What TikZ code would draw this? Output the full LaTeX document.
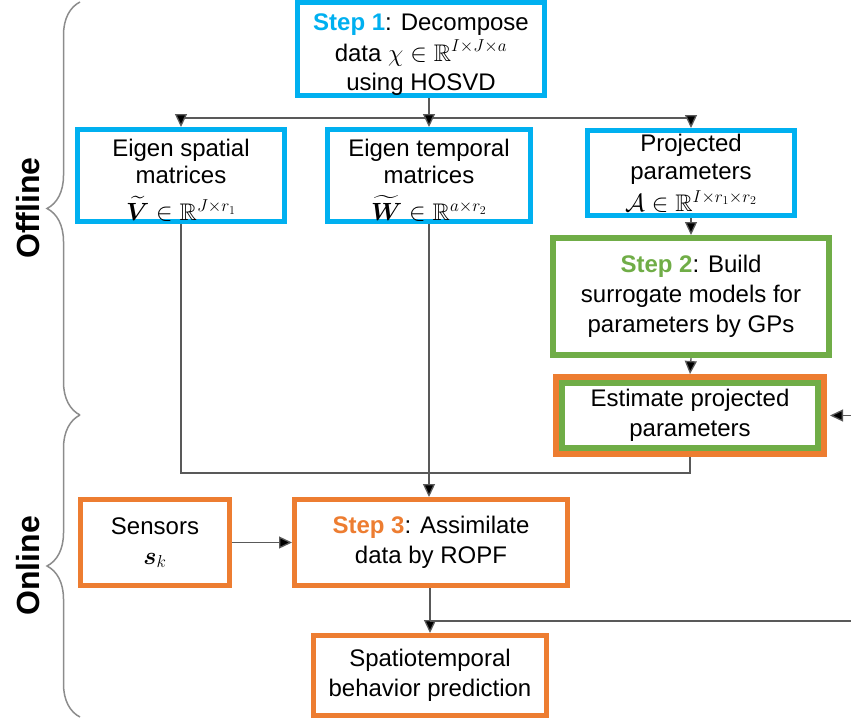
\documentclass[tikz,border=0pt]{standalone}
\usepackage{fontspec}
\usepackage{amsmath,amssymb,bm}
\setmainfont{Liberation Sans}
\usetikzlibrary{arrows.meta,decorations.pathreplacing,calc}

\definecolor{stepblue}{HTML}{00B0F0}
\definecolor{stepgreen}{HTML}{70AD47}
\definecolor{steporange}{HTML}{ED7D31}
\definecolor{linkgray}{HTML}{595959}
\definecolor{bracegray}{HTML}{8C8C8C}

% extra room above the first text line of a box
\newcommand{\topstrut}{\rule{0pt}{27pt}}

\tikzset{
  box/.style={draw, rectangle, line width=5pt, fill=white, inner sep=0pt,
    align=center, font=\fontsize{24}{28}\selectfont},
  bluebox/.style={box, draw=stepblue},
  greenbox/.style={box, draw=stepgreen, line width=6pt},
  orangebox/.style={box, draw=steporange},
  link/.style={draw=linkgray, line width=1.3pt},
  arrowlink/.style={link, -{Triangle[length=13pt,width=12pt,fill=black]}},
  phase/.style={font=\fontsize{32}{36}\selectfont\bfseries, rotate=90},
  phasebrace/.style={draw=bracegray, line width=1.5pt, decorate,
    decoration={brace, amplitude=33pt, aspect=0.5}}
}

\begin{document}
\begin{tikzpicture}[x=1pt, y=-1pt]
  \useasboundingbox (0,0) rectangle (851,725);

  % offline stage
  \node[bluebox, minimum width=247pt, minimum height=93pt] (s1) at (421,49)
    {\topstrut\textbf{\textcolor{stepblue}{Step 1}}: Decompose\\[3pt]
     data $\chi \in \mathbb{R}^{I\times J\times a}$\\[1pt] using HOSVD};
  \node[bluebox, minimum width=207pt, minimum height=90pt] (es) at (181,175.5)
    {\topstrut Eigen spatial\\[-1pt] matrices\\[9pt]
     $\widetilde{\bm{V}} \in \mathbb{R}^{J\times r_1}$};
  \node[bluebox, minimum width=203pt, minimum height=90pt] (et) at (429,175.5)
    {\topstrut Eigen temporal\\[-1pt] matrices\\[9pt]
     $\widetilde{\bm{W}} \in \mathbb{R}^{a\times r_2}$};
  \node[bluebox, minimum width=207pt, minimum height=85pt] (pp) at (691,173)
    {Projected\\ parameters\\[4pt]
     $\mathcal{A} \in \mathbb{R}^{I\times r_1\times r_2}$};
  \node[greenbox, minimum width=276pt, minimum height=117pt] (s2) at (691,296.5)
    {\textbf{\textcolor{stepgreen}{Step 2}}: Build\\[2pt]
     surrogate models for\\[2pt] parameters by GPs};
  \node[orangebox, line width=6pt, minimum width=268pt, minimum height=77pt] (est) at (690,415.5) {};
  \node[greenbox, minimum width=256pt, minimum height=65pt] (esti) at (est.center)
    {Estimate projected\\[2pt] parameters};

  % online stage
  \node[orangebox, minimum width=149pt, minimum height=86pt] (sen) at (155,542.5)
    {Sensors\\[2pt] $\bm{s}_k$};
  \node[orangebox, minimum width=273pt, minimum height=86pt] (s3) at (431,542.5)
    {\textbf{\textcolor{steporange}{Step 3}}: Assimilate\\[2pt] data by ROPF};
  \node[orangebox, minimum width=233pt, minimum height=80pt] (sp) at (430,675.5)
    {Spatiotemporal\\[2pt] behavior prediction};

  % connectors
  \coordinate (j1) at (429,118);
  \draw[link] (s1.south -| et.north) -- (j1);
  \draw[link] (es.north |- j1) -- (pp.north |- j1);
  \draw[arrowlink] (es.north |- j1) -- (es.north);
  \draw[arrowlink] (j1) -- (et.north);
  \draw[arrowlink] (pp.north |- j1) -- (pp.north);
  \draw[arrowlink] (pp.south) -- (s2.north);
  \draw[arrowlink] (s2.south) -- (est.north);

  \coordinate (j2) at (429,473);
  \draw[link] (es.south) -- (es.south |- j2) -- (est.south |- j2) -- (est.south);
  \draw[arrowlink] (et.south) -- (s3.north -| et.south);
  \draw[arrowlink] (sen.east) -- (s3.west);

  \coordinate (j3) at (430,621);
  \coordinate (fb) at (856,621);
  \draw[arrowlink] (s3.south -| j3) -- (sp.north -| j3);
  \draw[arrowlink] (j3) -- (fb) -- (fb |- est.east) -- ($(est.east)+(3pt,0)$);

  % stage braces and labels
  \draw[phasebrace] (80,415) -- (80,2);
  \draw[phasebrace] (80,717) -- (80,415);
  \node[phase] (off) at (28,208) {Offline};
  \node[phase] (on) at (28,566) {Online};
\end{tikzpicture}
\end{document}
